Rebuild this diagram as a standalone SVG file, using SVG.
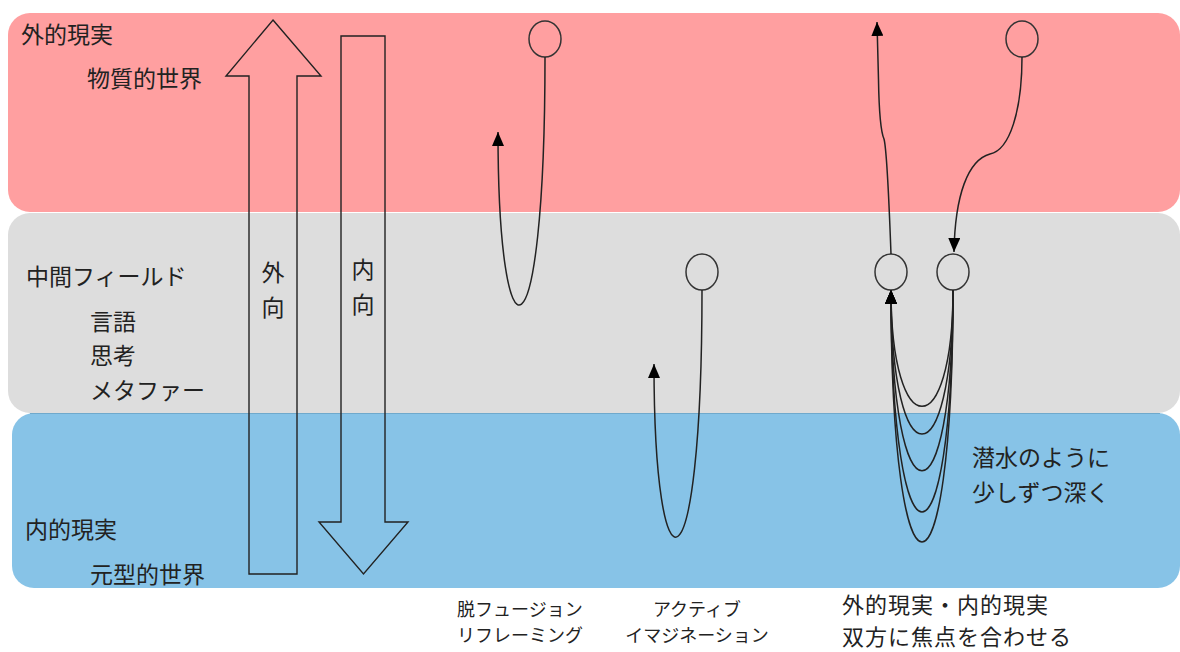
<svg xmlns="http://www.w3.org/2000/svg" width="1180" height="652" viewBox="0 0 1180 652">
<style>
text{font-family:"Noto Sans CJK JP","Noto Sans",sans-serif;fill:#222;}
.t23{font-size:23px;}
.t22{font-size:22px;letter-spacing:1px;}
.t18{font-size:18px;}
.mid{text-anchor:middle;}
.big{fill:none;stroke:#222;stroke-width:1.4;stroke-linejoin:miter;}
.node{fill:none;stroke:#333;stroke-width:1.5;}
.con{fill:none;stroke:#222;stroke-width:1.5;}
</style>
<defs>
<marker id="ah" markerUnits="userSpaceOnUse" markerWidth="14" markerHeight="12" refX="14" refY="6" orient="auto" viewBox="0 0 14 12">
<path d="M0,0 L14,6 L0,12 z" fill="#000"/>
</marker>
</defs>
<rect width="1180" height="652" fill="#fff"/>
<g id="bands">
<rect id="band-outer" x="8" y="13" width="1172" height="199" rx="22" fill="#FF9FA0"/>
<rect id="band-middle" x="8" y="213" width="1172" height="200" rx="22" fill="#DDDDDD"/>
<rect id="band-inner" x="12" y="413" width="1168" height="175" rx="22" fill="#87C3E7"/>
<line x1="30" y1="413.5" x2="1160" y2="413.5" stroke="#6FA9CC" stroke-width="1"/>
</g>
<g id="band-labels">
<text class="t23" x="21" y="43">外的現実</text>
<text class="t23" x="87" y="87">物質的世界</text>
<text class="t23" x="26" y="285">中間フィールド</text>
<text class="t23" x="90" y="330">言語</text>
<text class="t23" x="90" y="364">思考</text>
<text class="t23" x="90" y="399">メタファー</text>
<text class="t23" x="25" y="538">内的現実</text>
<text class="t23" x="90" y="583">元型的世界</text>
</g>
<g id="arrow-outward">
<polygon class="big" points="273,20 321,76 297,76 297,574 249,574 249,76 226,76"/>
<text class="t23 mid" x="273" y="281">外</text>
<text class="t23 mid" x="273" y="316">向</text>
</g>
<g id="arrow-inward">
<polygon class="big" points="341,36 385,36 385,522 408,522 363.5,574 319,522 341,522"/>
<text class="t23 mid" x="363" y="278">内</text>
<text class="t23 mid" x="363" y="313">向</text>
</g>
<g id="node-defusion">
<ellipse class="node" cx="545" cy="39" rx="16" ry="18"/>
</g>
<g id="node-active">
<ellipse class="node" cx="702" cy="272" rx="16" ry="18"/>
</g>
<g id="node-top-right">
<ellipse class="node" cx="1022" cy="39" rx="16" ry="18"/>
</g>
<g id="node-mid-a">
<ellipse class="node" cx="891" cy="272" rx="16" ry="18"/>
</g>
<g id="node-mid-b">
<ellipse class="node" cx="953" cy="272" rx="16" ry="18"/>
</g>
<g id="connectors">
<path class="con" d="M545,57 C545,374 498,374 498,132" marker-end="url(#ah)"/>
<path class="con" d="M702,290 C702,606 654,606 654,364" marker-end="url(#ah)"/>
<path class="con" d="M891,254 C889,200 887,150 884,139 C880,130 879,110 878.5,80 L877,22" marker-end="url(#ah)"/>
<path class="con" d="M1022,57 C1022,110 1010,150 990,154 C968,160 955,195 954,252" marker-end="url(#ah)"/>
<path class="con" d="M953,290 C953,445 891,445 891,290" marker-end="url(#ah)"/>
<path class="con" d="M953,290 C953,482 891,482 891,290" marker-end="url(#ah)"/>
<path class="con" d="M953,290 C953,531 891,531 891,290" marker-end="url(#ah)"/>
<path class="con" d="M953,290 C953,586 891,586 891,290" marker-end="url(#ah)"/>
<path class="con" d="M953,290 C953,626 891,626 891,290" marker-end="url(#ah)"/>
</g>
<g id="notes">
<text class="t23" x="972" y="466">潜水のように</text>
<text class="t23" x="972" y="501">少しずつ深く</text>
<text class="t18" x="457" y="616">脱フュージョン</text>
<text class="t18" x="457" y="642">リフレーミング</text>
<text class="t18 mid" x="697" y="616">アクティブ</text>
<text class="t18 mid" x="697" y="642">イマジネーション</text>
<text class="t22" x="842" y="613">外的現実・内的現実</text>
<text class="t22" x="842" y="645">双方に焦点を合わせる</text>
</g>
</svg>
